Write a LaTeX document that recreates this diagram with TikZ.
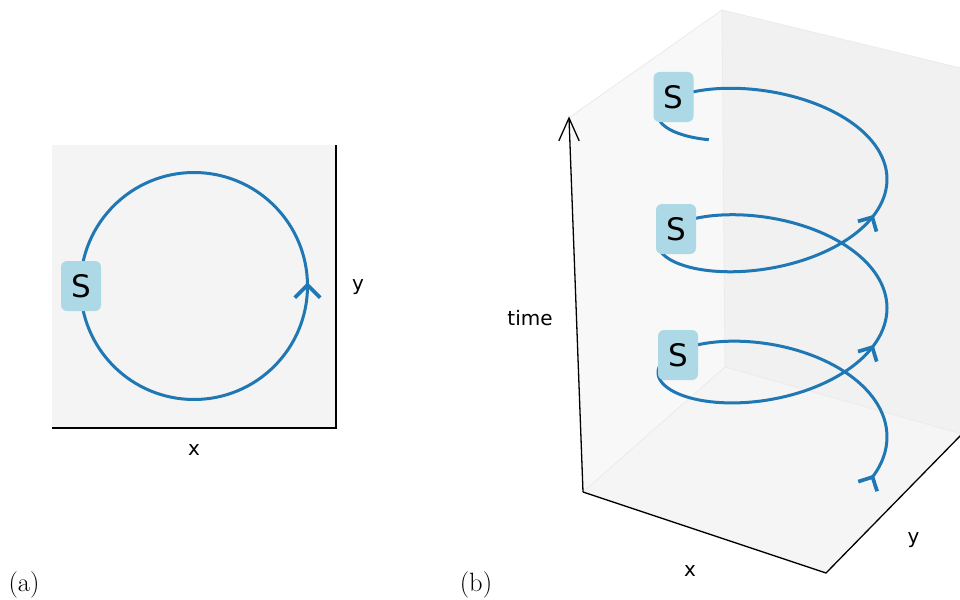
\documentclass[tikz,border=0pt]{standalone}
\usepackage{fontspec}
\setsansfont{DejaVu Sans}
\definecolor{mplblue}{HTML}{1F77B4}
\definecolor{sboxc}{HTML}{ADD8E6}
\definecolor{panebg}{HTML}{F4F4F4}
\definecolor{paneleft}{HTML}{F8F8F8}
\definecolor{paneback}{HTML}{F1F1F1}
\definecolor{panefloor}{HTML}{F5F5F5}
\definecolor{paneedge}{HTML}{EBEBEB}
\begin{document}
\begin{tikzpicture}[x=1pt,y=-1pt,
  sbox/.style={fill=sboxc, rounded corners=6pt, minimum width=40pt, minimum height=50pt, inner sep=0pt, font=\sffamily\fontsize{31}{31}\selectfont},
  axlabel/.style={font=\sffamily\fontsize{20}{20}\selectfont, inner sep=0pt},
  plabel/.style={font=\fontsize{26.5}{26.5}\selectfont, anchor=base, inner sep=0pt},
  traj/.style={draw=mplblue, line width=3pt},
  tipline/.style={draw=mplblue, line width=3.7pt, line join=miter},
  axisline/.style={draw=black, line width=1.3pt},
  paneline/.style={draw=paneedge, line width=0.8pt}]
\useasboundingbox (0,0) rectangle (960,599);
\clip (0,0) rectangle (960,599);

% ---------- panel (a) ----------
\coordinate (aTL) at (52,145);
\coordinate (aTR) at (336,145);
\coordinate (aBL) at (52,428);
\coordinate (aBR) at (336,428);
\fill[panebg] (aTL) rectangle (aBR);
\draw[axisline] (aTR) -- (aBR) -- (aBL);
\draw[traj] (194,286) circle[radius=113.5];
\coordinate (ca) at (307.5,285);
\draw[tipline] (ca) ++(45:18) -- (ca) -- ++(135:18);
\node[sbox] (sa) at (81,286) {S};
\node[axlabel] (xa) at (194,450) {x};
\node[axlabel] (ya) at (358,287) {y};
\node[plabel] (pa) at (24,591) {(a)};

% ---------- panel (b) ----------
\coordinate (bTL) at (570,117);
\coordinate (bTB) at (722,10);
\coordinate (bTR) at (1010,80);
\coordinate (bBB) at (725,367);
\coordinate (bBL) at (583,492);
\coordinate (bBF) at (826,573);
\coordinate (bBR) at (962,434);
\coordinate (bRR) at (1010,450);
\fill[paneleft] (bTL) -- (bTB) -- (bBB) -- (bBL) -- cycle;
\fill[paneback] (bTB) -- (bTR) -- (bRR) -- (bBB) -- cycle;
\fill[panefloor] (bBL) -- (bBB) -- (bBR) -- (bBF) -- cycle;
\draw[paneline] (bTL) -- (bTB) -- (bBB) -- (bBL);
\draw[paneline] (bTB) -- (bTR);
\draw[paneline] (bBB) -- (bBR);

% axes
\coordinate (tt) at (569,118);
\draw[axisline] (bBL) -- (tt);
\draw[axisline] (tt) ++(114:25) -- (tt) -- ++(66:25);
\draw[axisline] (bBL) -- (bBF) -- (bBR);

% helix
\draw[traj] plot[domain=-3.65:13.55, samples=320, smooth, variable=\t]
  ({772.5-114.5*cos((\t) r)}, {372.5+(57-0.4*((\t)-6.2832))*sin((\t) r)-20.5*(\t)});
\foreach \t [count=\i] in {-3.65,2.63,8.913} {
  \pgfmathsetmacro\hx{772.5-114.5*cos((\t) r)}
  \pgfmathsetmacro\hB{57-0.4*((\t)-6.2832)}
  \pgfmathsetmacro\hy{372.5+\hB*sin((\t) r)-20.5*(\t)}
  \pgfmathsetmacro\hang{atan2(\hB*cos((\t) r)-20.5, 114.5*sin((\t) r))-10}
  \coordinate (h\i) at (\hx,\hy);
  \draw[tipline] (h\i) ++(\hang+135:15) -- (h\i) -- ++(\hang-135:15);
}

\node[sbox] (s1) at (678,355) {S};
\node[sbox] (s2) at (676,229) {S};
\node[sbox] (s3) at (673.5,97) {S};

\node[axlabel] (tl) at (530,318) {time};
\node[axlabel] (xb) at (690,571) {x};
\node[axlabel] (yb) at (913.5,540) {y};
\node[plabel] (pb) at (476,591) {(b)};
\end{tikzpicture}
\end{document}
